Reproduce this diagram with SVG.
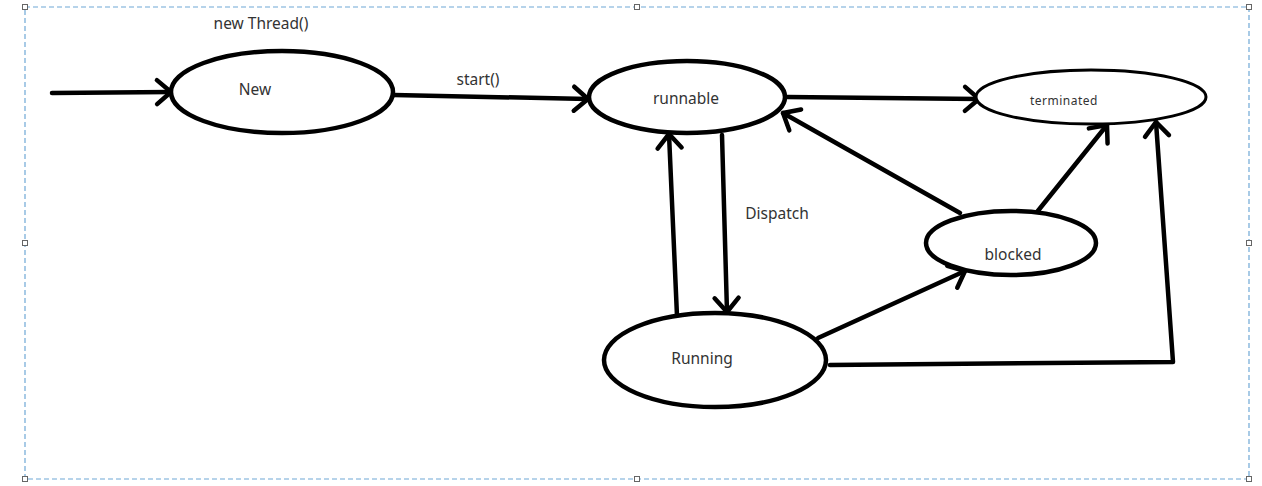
<svg xmlns="http://www.w3.org/2000/svg" width="1262" height="486" viewBox="0 0 1262 486">
  <style>
    .state { fill: #ffffff; stroke: #000000; stroke-width: 4.5; }
    .thin { stroke-width: 3; }
    .edge { fill: none; stroke: #000000; stroke-width: 4.5; stroke-linecap: round; stroke-linejoin: round; }
    .label { font-family: "Noto Sans", "Open Sans", sans-serif; font-size: 15.5px; fill: #333333; text-anchor: middle; }
    .small { font-size: 12px; letter-spacing: 0.5px; }
    .frame { fill: none; stroke: #6fa8d6; stroke-width: 1.2; stroke-dasharray: 5 3; }
    .handle { fill: #ffffff; stroke: #666666; stroke-width: 1; }
  </style>
  <defs>
    <marker id="open" viewBox="0 0 16 26" refX="15" refY="13" markerWidth="16" markerHeight="26" markerUnits="userSpaceOnUse" orient="auto" overflow="visible">
      <path d="M1,1 L15,13 L1,25" fill="none" stroke="#000000" stroke-width="4.5" stroke-linecap="round" stroke-linejoin="round"/>
    </marker>
  </defs>
  <rect width="1262" height="486" fill="#ffffff"/>

  <!-- selection frame with resize handles -->
  <g id="frame">
    <rect class="frame" x="25" y="7" width="1224" height="472"/>
    <rect class="handle" x="22.5" y="4.5" width="5" height="5"/>
    <rect class="handle" x="634.5" y="4.5" width="5" height="5"/>
    <rect class="handle" x="1246.5" y="4.5" width="5" height="5"/>
    <rect class="handle" x="22.5" y="240.5" width="5" height="5"/>
    <rect class="handle" x="1246.5" y="240.5" width="5" height="5"/>
    <rect class="handle" x="22.5" y="476.5" width="5" height="5"/>
    <rect class="handle" x="634.5" y="476.5" width="5" height="5"/>
    <rect class="handle" x="1246.5" y="476.5" width="5" height="5"/>
  </g>

  <!-- transitions -->
  <g id="connectors">
    <path class="edge" d="M52,93 L171,92" marker-end="url(#open)"/>
    <path class="edge" d="M394,95 L588,99" marker-end="url(#open)"/>
    <path class="edge" d="M787,97 L979,99" marker-end="url(#open)"/>
    <path class="edge" d="M722,135 L727,312" marker-end="url(#open)"/>
    <path class="edge" d="M677,316 L669,134" marker-end="url(#open)"/>
    <path class="edge" d="M960,213 L783,113" marker-end="url(#open)"/>
    <path class="edge" d="M818,338 L965,271" marker-end="url(#open)"/>
    <path class="edge" d="M1037,212 L1107,125" marker-end="url(#open)"/>
    <path class="edge" d="M830,365 L1173,362 L1156,122" marker-end="url(#open)"/>
  </g>

  <g id="edge-labels">
    <text class="label" x="261" y="29">new Thread()</text>
    <text class="label" x="478" y="85">start()</text>
    <text class="label" x="777" y="219">Dispatch</text>
  </g>

  <g id="node-new">
    <ellipse class="state" cx="282" cy="92" rx="111" ry="41"/>
    <text class="label" x="255" y="95">New</text>
  </g>
  <g id="node-runnable">
    <ellipse class="state" cx="687" cy="97" rx="98" ry="36"/>
    <text class="label" x="686" y="104">runnable</text>
  </g>
  <g id="node-terminated">
    <ellipse class="state thin" cx="1091" cy="97" rx="115" ry="27"/>
    <text class="label small" x="1064" y="105">terminated</text>
  </g>
  <g id="node-blocked">
    <ellipse class="state" cx="1011" cy="243" rx="85" ry="32"/>
    <text class="label" x="1013" y="260">blocked</text>
  </g>
  <g id="node-running">
    <ellipse class="state" cx="715" cy="360" rx="111" ry="47"/>
    <text class="label" x="702" y="364">Running</text>
  </g>
</svg>
